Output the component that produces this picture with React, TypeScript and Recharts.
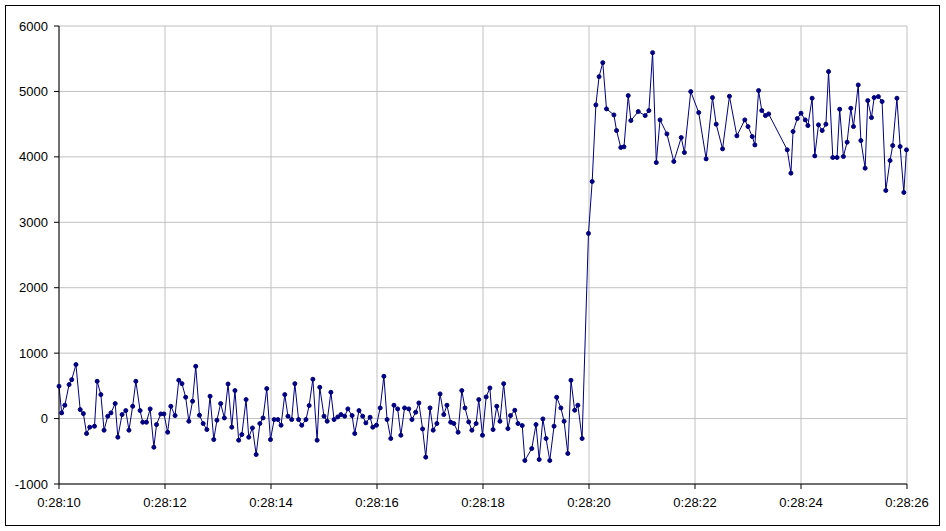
import { LineChart, Line, XAxis, YAxis, CartesianGrid } from 'recharts';

// seconds past 0:28:00
const times = [
  10.0, 10.05, 10.11, 10.19, 10.24, 10.32, 10.4, 10.46, 10.52, 10.58, 10.67, 10.72, 10.79, 10.85, 10.92, 10.98,
  11.06, 11.11, 11.19, 11.26, 11.32, 11.39, 11.45, 11.53, 11.58, 11.65, 11.72, 11.79, 11.84, 11.92, 11.98,
  12.05, 12.11, 12.19, 12.26, 12.32, 12.39, 12.45, 12.52, 12.58, 12.65, 12.72, 12.79, 12.85, 12.92, 12.98,
  13.05, 13.12, 13.19, 13.26, 13.32, 13.39, 13.45, 13.53, 13.58, 13.65, 13.72, 13.79, 13.85, 13.92, 13.99,
  14.06, 14.13, 14.19, 14.26, 14.32, 14.39, 14.45, 14.52, 14.58, 14.66, 14.72, 14.79, 14.87, 14.92, 15.0,
  15.06, 15.13, 15.19, 15.26, 15.32, 15.39, 15.45, 15.53, 15.58, 15.66, 15.73, 15.79, 15.87, 15.92, 15.99,
  16.06, 16.13, 16.19, 16.26, 16.32, 16.39, 16.45, 16.52, 16.6, 16.66, 16.73, 16.79, 16.86, 16.92, 17.0,
  17.06, 17.13, 17.19, 17.26, 17.32, 17.39, 17.45, 17.53, 17.6, 17.66, 17.73, 17.79, 17.87, 17.92, 17.99,
  18.06, 18.13, 18.19, 18.26, 18.32, 18.39, 18.47, 18.52, 18.6, 18.66, 18.74, 18.79, 18.92, 19.0,
  19.06, 19.13, 19.19, 19.26, 19.34, 19.39, 19.47, 19.53, 19.6, 19.66, 19.73, 19.79, 19.87,
  19.99, 20.06, 20.13, 20.19, 20.26, 20.33, 20.47, 20.52, 20.6, 20.66, 20.74, 20.79, 20.93,
  21.06, 21.13, 21.2, 21.27, 21.34, 21.47, 21.6, 21.74, 21.8, 21.92,
  22.07, 22.21, 22.33, 22.4, 22.52, 22.65, 22.79, 22.94, 23.0, 23.08, 23.13, 23.2, 23.26, 23.33, 23.39,
  23.74, 23.81, 23.85, 23.93,
  24.0, 24.08, 24.13, 24.21, 24.26, 24.33, 24.4, 24.47, 24.52, 24.6, 24.68, 24.73, 24.8, 24.87, 24.94, 24.99,
  25.08, 25.13, 25.21, 25.26, 25.33, 25.38, 25.46, 25.53, 25.6, 25.68, 25.73, 25.81, 25.87, 25.94, 25.99,
];

const values = [
  494, 87, 204, 519, 595, 825, 137, 76, -229, -132, -117, 570, 366, -178, 36, 87,
  229, -285, 61, 122, -178, 188, 570, 122, -56, -56, 148, -438, -92, 71, 71,
  -209, 188, 46, 585, 534, 326, -41, 265, 799, 51, -76, -168, 341, -321, -25,
  229, 10, 529, -132, 428, -331, -244, 290, -285, -143, -550, -76, 10, 458, -321,
  -15, -15, -102, 366, 36, -15, 534, -15, -102, -15, 199, 601, -331, 478, 36,
  -41, 402, -15, 25, 61, 36, 148, 46, -229, 122, 36, -66, 20, -132, -102,
  163, 646, -15, -305, 204, 148, -255, 163, 148, -15, 97, 239, -158, -590, 163,
  -178, -76, 377, 61, 204, -56, -76, -209, 428, 163, -51, -178, -76, 290, -255,
  331, 468, -168, 188, -41, 534, -153, 46, 127, -76, -107, -641, -458, -92,
  -626, -5, -305, -641, -117, 326, 163, -41, -534, 585, 127, 204, -305,
  2830, 3623, 4794, 5226, 5440, 4733, 4641, 4402, 4143, 4153, 4936, 4555, 4692,
  4631, 4707, 5593, 3913, 4565, 4351, 3929, 4295, 4066, 4997,
  4677, 3969, 4906, 4499, 4122, 4926, 4321, 4565, 4463, 4310, 4183, 5013, 4707, 4631, 4656,
  4107, 3751, 4387, 4585,
  4667, 4565, 4478, 4896, 4015, 4489, 4402, 4499, 5303, 3990, 3990, 4728, 4005, 4224, 4743, 4463,
  5099, 4249, 3827, 4860, 4600, 4906, 4921, 4845, 3486, 3944, 4173, 4896, 4158, 3456, 4107,
];

const xTicks = [10, 12, 14, 16, 18, 20, 22, 24, 26];
const xTickLabels = ['0:28:10', '0:28:12', '0:28:14', '0:28:16', '0:28:18', '0:28:20', '0:28:22', '0:28:24', '0:28:26'];
const yTicks = [-1000, 0, 1000, 2000, 3000, 4000, 5000, 6000];

const data = times.map((t, i) => ({ t, v: values[i] }));

const tickStyle = { fill: '#000', fontSize: 13, fontFamily: 'Arial, "Liberation Sans", sans-serif' };

export default function App() {
  return (
    <div style={{ position: 'absolute', left: 0, top: 0, width: 946, height: 531, background: '#fff' }}>
      <LineChart width={946} height={531} data={data} margin={{ top: 26, right: 39, bottom: 16, left: 0 }}>
        <CartesianGrid stroke="#c0c0c0" ticks={undefined} />
        <XAxis
          dataKey="t"
          type="number"
          domain={[10, 26]}
          ticks={xTicks}
          tickFormatter={(t: number) => xTickLabels[xTicks.indexOf(t)]}
          height={31}
          tickSize={5}
          tickMargin={9}
          stroke="#000"
          tick={tickStyle}
          interval={0}
        />
        <YAxis
          type="number"
          domain={[-1000, 6000]}
          ticks={yTicks}
          width={59}
          tickSize={5}
          tickMargin={6}
          stroke="#000"
          tick={tickStyle}
          interval={0}
        />
        <Line
          type="linear"
          dataKey="v"
          stroke="#000080"
          strokeWidth={1}
          dot={{ r: 2, fill: '#000080', stroke: '#000080', strokeWidth: 1 }}
          isAnimationActive={false}
        />
      </LineChart>
      <div style={{ position: 'absolute', left: 5, top: 5, width: 935, height: 521, border: '1px solid #000', boxSizing: 'border-box', pointerEvents: 'none' }} />
    </div>
  );
}
